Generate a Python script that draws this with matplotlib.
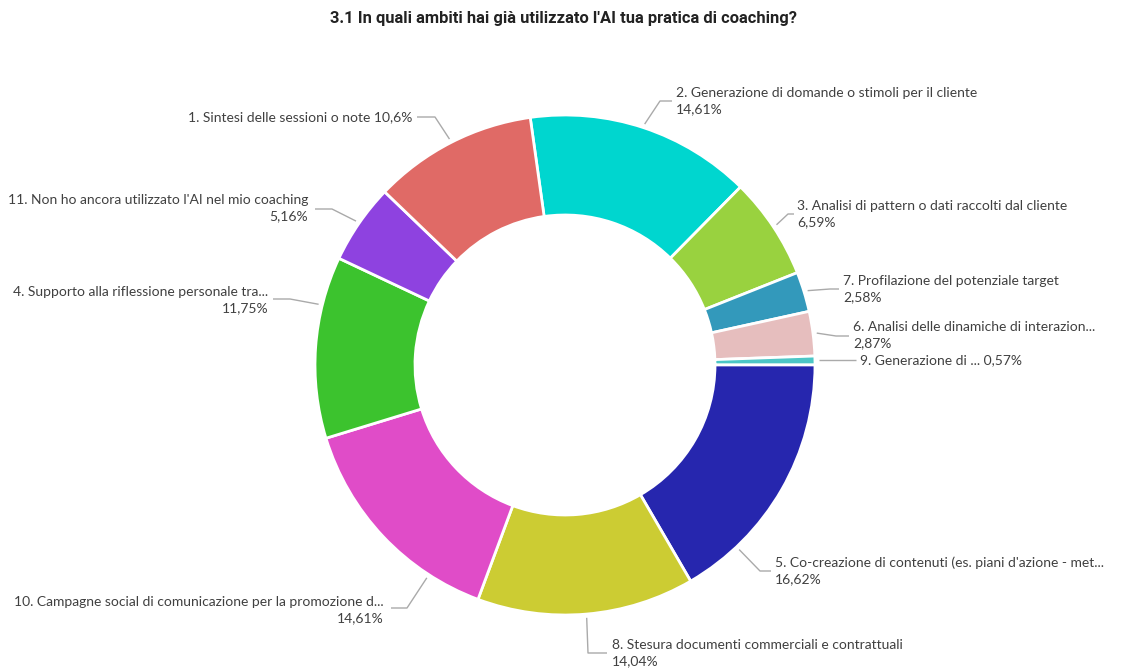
import matplotlib
matplotlib.use("Agg")
import matplotlib.pyplot as plt
from matplotlib import font_manager
import numpy as np

# ---------------- data (clockwise from top) ----------------
labels = [
    "2. Generazione di domande o stimoli per il cliente",
    "3. Analisi di pattern o dati raccolti dal cliente",
    "7. Profilazione del potenziale target",
    "6. Analisi delle dinamiche di interazion...",
    "9. Generazione di ...",
    "5. Co-creazione di contenuti (es. piani d'azione - met...",
    "8. Stesura documenti commerciali e contrattuali",
    "10. Campagne social di comunicazione per la promozione d...",
    "4. Supporto alla riflessione personale tra...",
    "11. Non ho ancora utilizzato l'AI nel mio coaching",
    "1. Sintesi delle sessioni o note",
]
values = [14.61, 6.59, 2.58, 2.87, 0.57, 16.62, 14.04, 14.61, 11.75, 5.16, 10.6]
colors = ["#00D6CF", "#99D23F", "#3399BB", "#E6BEBE", "#4CC6C6", "#2626AE",
          "#CCCC33", "#E04CC8", "#3CC32E", "#8E42E0", "#E06A66"]
title = "3.1 In quali ambiti hai già utilizzato l'AI tua pratica di coaching?"

# ---------------- layout ----------------
W, H = 1123, 668
CX, CY, R = 565, 365, 250
START = 98

def p2d(x, y):
    return ((x - CX) / R, (CY - y) / R)

# label layout: (single_line, ha, text_x, text_y, elbow_x, elbow_y, end_x, frac)
# frac = where along the wedge (clockwise) the leader line starts
layout = [
    (False, "left", 676, 101, 660, 101, 672, 0.5),
    (False, "left", 797, 214, 788, 214, 794, 0.5),
    (False, "left", 843, 289, 830, 289, 839, 0.5),
    (False, "left", 853, 335, 836, 336, 849, 0.5),
    (True, "left", 860, 365, None, 365, 856, 0.5),
    (False, "left", 775, 571, 760, 571, 771, 0.78),
    (False, "left", 612, 653, 588, 653, 607, 0.5),
    (False, "right", 384, 610, 407, 608, 391, 0.24),
    (False, "right", 268, 300, 290, 299, 273, 0.73),
    (False, "right", 308, 208, 332, 209, 315, 0.5),
    (True, "right", 412, 117, 435, 117, 417, 0.5),
]

fig = plt.figure(figsize=(W / 100, H / 100), dpi=100)
ax = fig.add_axes([0, 0, 1, 1])

wedges, _ = ax.pie(values, colors=colors, startangle=START, counterclock=False,
                   radius=1.0, wedgeprops=dict(width=0.4, edgecolor="white", linewidth=2))
ax.set_xlim(-CX / R, (W - CX) / R)
ax.set_ylim((CY - H) / R, CY / R)
ax.set_aspect("equal")
ax.axis("off")

font = ["Lato", "DejaVu Sans"]
txtcol = "#404040"
linecol = "#AAAAAA"

def fmt(v):
    return f"{v:g}".replace(".", ",") + "%"

for w, lab, v, lay in zip(wedges, labels, values, layout):
    single, ha, tx, ty, ex, ey, endx, frac = lay
    # wedges drawn clockwise: theta2 is the clockwise start edge
    a = w.theta2 - frac * (w.theta2 - w.theta1)
    ang = np.deg2rad(a)
    sx, sy = 1.015 * np.cos(ang), 1.015 * np.sin(ang)
    if ex is None:
        pts = [(sx, sy), (p2d(endx, 0)[0], sy)]
        ty_d = sy
    else:
        pts = [(sx, sy), p2d(ex, ey), p2d(endx, ey)]
        ty_d = p2d(0, ty)[1]
    xs, ys = zip(*pts)
    ax.plot(xs, ys, color=linecol, lw=1, solid_capstyle="butt")
    text = f"{lab} {fmt(v)}" if single else f"{lab}\n{fmt(v)}"
    x = p2d(tx, 0)[0]
    ax.text(x, ty_d, text, ha=ha, va="center", fontsize=10, color=txtcol,
            family=font, linespacing=1.38, multialignment=ha)

# title: condensed bold font if available, size fitted to the reference width
tfam = ["DejaVu Sans"]
for cand in ["Liberation Sans Narrow", "Roboto"]:
    try:
        font_manager.findfont(font_manager.FontProperties(family=cand, weight="bold"),
                              fallback_to_default=False)
        tfam = [cand, "DejaVu Sans"]
        break
    except Exception:
        pass
t = fig.text(563 / W, 1 - 18 / H, title, ha="center", va="center", fontsize=12,
             fontweight="bold", color="#222222", family=tfam)
fig.canvas.draw()
wpx = t.get_window_extent().width
t.set_fontsize(12 * 467 / wpx)

fig.savefig("out.png", dpi=100, facecolor="white")
